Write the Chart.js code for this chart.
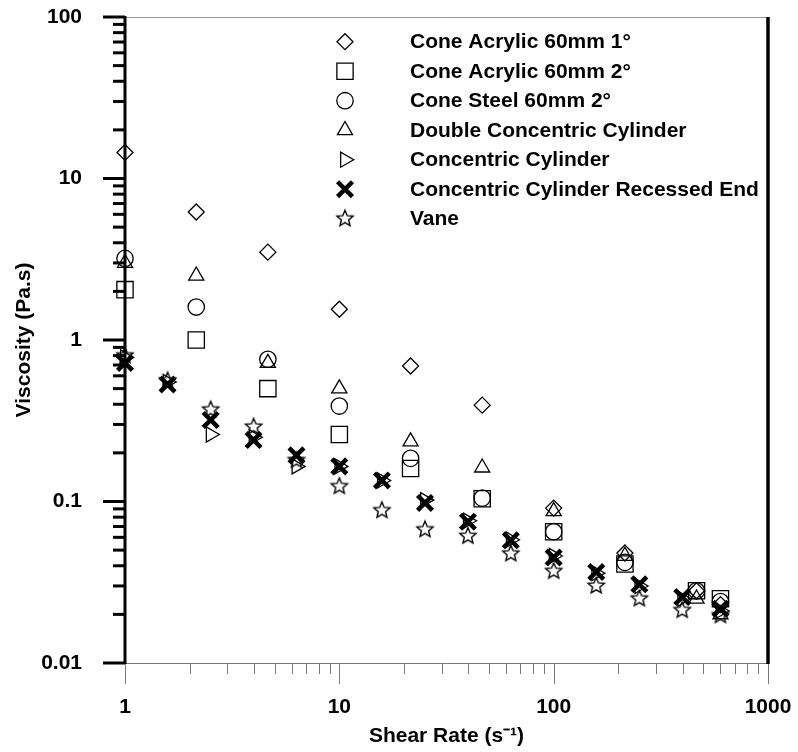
<!DOCTYPE html>
<html lang="en">
<head>
<meta charset="UTF-8" />
<title>Viscosity vs Shear Rate</title>
<script src="https://cdn.jsdelivr.net/npm/chart.js"></script>
<style>
  html, body { margin: 0; padding: 0; background: #fff; }
  #chart { display: block; }
</style>
</head>
<body>
<canvas id="chart" width="798" height="752"></canvas>
<script>
// shear rates (s-1)
const rateCone = [1, 2.15, 4.64, 10, 21.5, 46.4, 100, 215, 464, 600];
const rateCyl = [1, 1.58, 2.51, 3.98, 6.31, 10, 15.8, 25.1, 39.8, 63.1, 100, 158, 251, 398, 600];

// viscosity (Pa.s)
const acrylic1 = [14.5, 6.2, 3.5, 1.55, 0.69, 0.395, 0.091, 0.048, 0.028, 0.023];
const acrylic2 = [2.05, 1.0, 0.50, 0.26, 0.16, 0.104, 0.065, 0.041, 0.028, 0.025];
const steel2 = [3.2, 1.6, 0.76, 0.39, 0.185, 0.105, 0.065, 0.042, 0.028, 0.024];
const doubleCyl = [3.0, 2.5, 0.72, 0.50, 0.235, 0.162, 0.087, 0.046, 0.025, 0.020];
const concCyl = [0.78, 0.55, 0.26, 0.25, 0.165, 0.165, 0.135, 0.102, 0.076, 0.058, 0.046, 0.036, 0.030, 0.025, 0.021];
const recessed = [0.72, 0.53, 0.32, 0.24, 0.193, 0.165, 0.135, 0.098, 0.075, 0.0575, 0.045, 0.0366, 0.0307, 0.0256, 0.0217];
const vane = [0.80, 0.56, 0.37, 0.29, 0.18, 0.124, 0.088, 0.067, 0.061, 0.0475, 0.037, 0.030, 0.025, 0.0212, 0.0197];

const labels = [
  'Cone Acrylic 60mm 1°',
  'Cone Acrylic 60mm 2°',
  'Cone Steel 60mm 2°',
  'Double Concentric Cylinder',
  'Concentric Cylinder',
  'Concentric Cylinder Recessed End',
  'Vane'
];

const FONT = "Arial, 'Liberation Sans', sans-serif";

function makeStar(r, lw) {
  const c = document.createElement('canvas');
  const s = Math.ceil(2 * r + 2 * lw + 2);
  c.width = c.height = s;
  const g = c.getContext('2d');
  g.beginPath();
  for (let i = 0; i < 10; i++) {
    const rr = i % 2 ? r * 0.45 : r;
    const ang = -Math.PI / 2 + i * Math.PI / 5;
    g.lineTo(s / 2 + rr * Math.cos(ang), s / 2 + rr * Math.sin(ang));
  }
  g.closePath();
  g.lineWidth = lw;
  g.strokeStyle = '#000';
  g.stroke();
  return c;
}
const star = makeStar(8.5, 1.4);

function pts(xs, ys) {
  return xs.map((x, i) => ({ x: x, y: ys[i] }));
}

function ds(label, xs, ys, style, radius, width, rotation) {
  return {
    label: label,
    data: pts(xs, ys),
    pointStyle: style,
    pointRadius: radius,
    pointHoverRadius: radius,
    pointBorderWidth: width,
    borderWidth: width,
    rotation: rotation || 0,
    borderColor: '#000',
    backgroundColor: 'rgba(0,0,0,0)',
    showLine: false,
    clip: false
  };
}

const datasets = [
  ds(labels[0], rateCone, acrylic1, 'rectRot', 8, 1.3),
  ds(labels[1], rateCone, acrylic2, 'rect', 11.5, 1.3),
  ds(labels[2], rateCone, steel2, 'circle', 8.2, 1.3),
  ds(labels[3], rateCone, doubleCyl, 'triangle', 8.7, 1.3),
  ds(labels[4], rateCyl, concCyl, 'triangle', 8.7, 1.3, 90),
  ds(labels[5], rateCyl, recessed, 'crossRot', 10.5, 4.5),
  ds(labels[6], rateCyl, vane, star, 8, 1.4)
];

function isDecade(v) {
  const l = Math.log10(v);
  return Math.abs(l - Math.round(l)) < 1e-9;
}

// frame and tick marks, placed with the scales
const axesPlugin = {
  id: 'axes',
  afterDraw(chart) {
    const { ctx, chartArea: a, scales } = chart;
    const x = scales.x, y = scales.y;
    const line = (x1, y1, x2, y2) => {
      ctx.beginPath(); ctx.moveTo(x1, y1); ctx.lineTo(x2, y2); ctx.stroke();
    };
    ctx.save();
    ctx.lineWidth = 1;
    ctx.strokeStyle = '#999';
    line(a.left, a.top + 0.5, a.right, a.top + 0.5);
    ctx.strokeStyle = '#777';
    line(a.left, a.bottom + 0.5, a.right, a.bottom + 0.5);
    for (let e = 0; e <= 3; e++) {
      for (let m = 1; m <= 9; m++) {
        const v = m * Math.pow(10, e);
        if (v > 1000) break;
        const px = Math.round(x.getPixelForValue(v)) + 0.5;
        line(px, a.bottom, px, a.bottom + (m === 1 ? 21 : 11));
      }
    }
    ctx.strokeStyle = '#000';
    ctx.lineWidth = 3;
    line(a.left, a.top - 1, a.left, a.bottom + 1);
    ctx.lineWidth = 3.5;
    line(a.right, a.top, a.right, a.bottom + 1);
    ctx.lineWidth = 3;
    for (let e = -2; e <= 2; e++) {
      for (let m = 1; m <= 9; m++) {
        const v = m * Math.pow(10, e);
        if (v > 100.0001) break;
        const py = y.getPixelForValue(v);
        line(a.left, py, a.left - (m === 1 ? 22 : 12), py);
      }
    }
    ctx.restore();
  }
};

// legend drawn inside the plot, top right
const legendPlugin = {
  id: 'innerLegend',
  afterDraw(chart) {
    const ctx = chart.ctx;
    ctx.save();
    chart.data.datasets.forEach((d, i) => {
      const cy = 41.7 + i * 29.5;
      ctx.strokeStyle = '#000';
      ctx.fillStyle = 'rgba(0,0,0,0)';
      ctx.lineWidth = d.borderWidth;
      Chart.helpers.drawPoint(ctx, {
        pointStyle: d.pointStyle,
        rotation: d.rotation,
        radius: d.pointRadius,
        borderWidth: d.borderWidth
      }, 345, cy);
      ctx.fillStyle = '#000';
      ctx.font = 'bold 21px ' + FONT;
      ctx.textBaseline = 'middle';
      ctx.textAlign = 'left';
      ctx.fillText(d.label, 410, cy + 1);
    });
    ctx.restore();
  }
};

new Chart(document.getElementById('chart'), {
  type: 'scatter',
  data: { datasets: datasets },
  options: {
    responsive: false,
    animation: false,
    layout: { padding: { top: 17, right: 30, bottom: 0, left: 0 } },
    plugins: {
      legend: { display: false },
      tooltip: { enabled: false }
    },
    scales: {
      x: {
        type: 'logarithmic',
        min: 1,
        max: 1000,
        grid: { display: false },
        border: { display: false },
        afterFit: s => { s.height = 89; s.paddingLeft = 0; s.paddingRight = 0; },
        ticks: {
          autoSkip: false,
          maxRotation: 0,
          padding: 24,
          color: '#000',
          font: { family: FONT, size: 21, weight: 'bold' },
          callback: v => isDecade(v) ? String(Math.round(v)) : ''
        },
        title: {
          display: true,
          text: 'Shear Rate (s⁻¹)',
          color: '#000',
          font: { family: FONT, size: 21, weight: 'bold' },
          padding: { top: 0, bottom: 3 }
        }
      },
      y: {
        type: 'logarithmic',
        min: 0.01,
        max: 100,
        grid: { display: false },
        border: { display: false },
        afterFit: s => { s.width = 125; s.paddingTop = 0; s.paddingBottom = 0; },
        ticks: {
          autoSkip: false,
          padding: 35,
          color: '#000',
          font: { family: FONT, size: 21, weight: 'bold' },
          callback: v => isDecade(v) ? String(+v.toPrecision(1)) : ''
        },
        title: {
          display: true,
          text: 'Viscosity (Pa.s)',
          color: '#000',
          font: { family: FONT, size: 21, weight: 'bold' },
          padding: { top: 12, bottom: 0 }
        }
      }
    }
  },
  plugins: [axesPlugin, legendPlugin]
});
</script>
</body>
</html>
